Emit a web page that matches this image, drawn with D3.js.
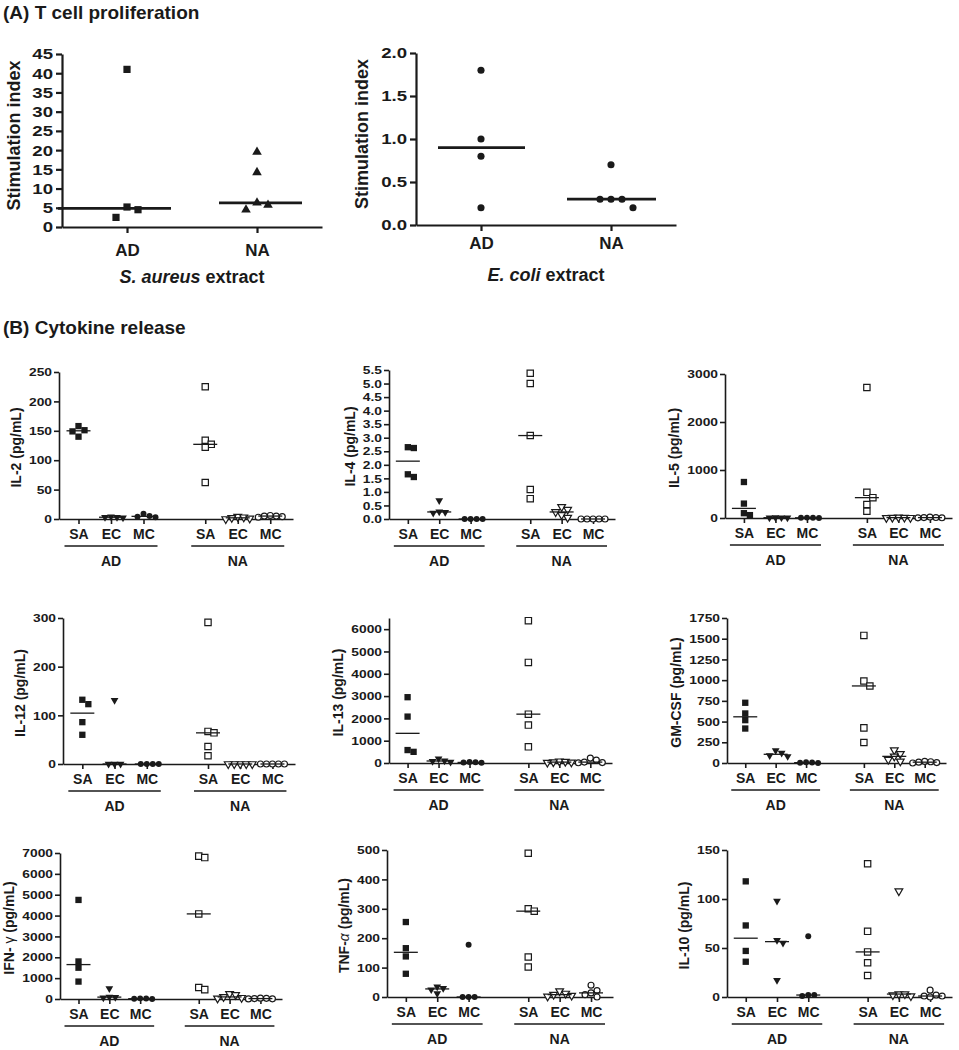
<!DOCTYPE html>
<html lang="en">
<head>
<meta charset="utf-8">
<title>T cell proliferation and cytokine release</title>
<script src="https://cdn.jsdelivr.net/npm/d3@7"></script>
<style>
  body { margin: 0; background: #fff; }
  svg { font-family: "Liberation Sans", Arial, sans-serif; }
  .axis path, .axis line { stroke: #1a1a1a; }
  .axis text { fill: #1a1a1a; font-weight: bold; }
  .lbl { fill: #1a1a1a; font-weight: bold; }
</style>
</head>
<body>
<script>
// ---------- Panel A data: stimulation index ----------
var groupsA = ["AD", "NA"];
var saureusAD = [41, 5.2, 4.5, 2.5];
var saureusNA = [19.5, 14.2, 6.3, 5.7, 4.5];
var ecoliAD = [1.8, 1.0, 0.8, 0.2];
var ecoliNA = [0.7, 0.3, 0.3, 0.3, 0.2];
var saureusTicks = [0, 5, 10, 15, 20, 25, 30, 35, 40, 45];
var ecoliTicks = [0, 0.5, 1.0, 1.5, 2.0];

// ---------- Panel B data: cytokines (pg/mL), [SA, EC, MC] per cohort ----------
var stimuli = ["SA", "EC", "MC"];
var cohorts = ["AD", "NA"];

var il2AD = [[158, 151, 149, 140], [4, 3, 3, 2], [9, 5, 4, 3]];
var il2NA = [[225, 134, 127, 122, 62], [4, 3, 2, 1, 0], [6, 5, 5, 4, 3]];
var il4AD = [[2.65, 2.62, 1.65, 1.55], [0.68, 0.27, 0.25, 0.22], [0, 0, 0, 0]];
var il4NA = [[5.38, 5.0, 3.08, 1.09, 0.75], [0.45, 0.35, 0.26, 0.15, 0.05], [0, 0, 0, 0, 0]];
var il5AD = [[750, 300, 100, 60], [10, 8, 5, 3], [8, 5, 3, 2]];
var il5NA = [[2720, 535, 424, 280, 140], [15, 10, 8, 5, 3], [20, 10, 8, 5, 3]];
var il12AD = [[132, 123, 86, 60], [131, 0, 0, 0], [0, 0, 0, 0]];
var il12NA = [[291, 67, 64, 36, 17], [0, 0, 0, 0, 0], [0, 0, 0, 0, 0]];
var il13AD = [[2950, 2080, 580, 500], [190, 100, 80, 40], [40, 30, 20, 10]];
var il13NA = [[6380, 4510, 2190, 1700, 724], [80, 60, 40, 30, 20], [220, 130, 40, 20, 10]];
var gmcsfAD = [[727, 598, 517, 416], [150, 120, 90, 80], [10, 5, 3, 0]];
var gmcsfNA = [[1540, 990, 930, 424, 247], [155, 110, 80, 40, 20], [20, 15, 10, 5, 0]];
var ifngAD = [[4750, 1800, 1500, 835], [500, 100, 80, 60], [30, 20, 10, 5]];
var ifngNA = [[6850, 6780, 4080, 550, 450], [250, 200, 100, 60, 30], [40, 30, 20, 10, 5]];
var tnfaAD = [[255, 166, 138, 79], [35, 30, 25, 12], [178, 0, 0, 0]];
var tnfaNA = [[489, 300, 292, 136, 102], [20, 12, 8, 5, 2], [40, 22, 14, 8, 0]];
var il10AD = [[118, 73, 47, 36], [98, 58, 55, 17], [62, 2, 2, 1]];
var il10NA = [[136, 67, 46, 35, 22], [108, 3, 3, 2, 1], [7, 2, 1, 1, 0]];

var il2Ticks = [0, 50, 100, 150, 200, 250];
var il4Ticks = [0, 0.5, 1.0, 1.5, 2.0, 2.5, 3.0, 3.5, 4.0, 4.5, 5.0, 5.5];
var il5Ticks = [0, 1000, 2000, 3000];
var il12Ticks = [0, 100, 200, 300];
var il13Ticks = [0, 1000, 2000, 3000, 4000, 5000, 6000];
var il13Top = 6500;
var gmcsfTicks = [0, 250, 500, 750, 1000, 1250, 1500, 1750];
var ifngTicks = [0, 1000, 2000, 3000, 4000, 5000, 6000, 7000];
var tnfaTicks = [0, 100, 200, 300, 400, 500];
var il10Ticks = [0, 50, 100, 150];

// label pieces: [text, isGreek]
var cytoPanels = [
  { label: [["IL-2 (pg/mL)"]], ad: il2AD, na: il2NA, ticks: il2Ticks },
  { label: [["IL-4 (pg/mL)"]], ad: il4AD, na: il4NA, ticks: il4Ticks, fmt: d3.format(".1f") },
  { label: [["IL-5 (pg/mL)"]], ad: il5AD, na: il5NA, ticks: il5Ticks },
  { label: [["IL-12 (pg/mL)"]], ad: il12AD, na: il12NA, ticks: il12Ticks },
  { label: [["IL-13 (pg/mL)"]], ad: il13AD, na: il13NA, ticks: il13Ticks, top: il13Top },
  { label: [["GM-CSF (pg/mL)"]], ad: gmcsfAD, na: gmcsfNA, ticks: gmcsfTicks },
  { label: [["IFN- "], ["γ", true], [" (pg/mL)"]], ad: ifngAD, na: ifngNA, ticks: ifngTicks },
  { label: [["TNF-"], ["α", true], [" (pg/mL)"]], ad: tnfaAD, na: tnfaNA, ticks: tnfaTicks },
  { label: [["IL-10 (pg/mL)"]], ad: il10AD, na: il10NA, ticks: il10Ticks }
];

// layout per cytokine panel: [axis x, top y, zero y, width]
var cytoLayout = [
  [59, 372, 519, 234], [389, 370, 519, 226], [725, 374, 518, 227],
  [63, 618, 764, 232], [389, 618, 763, 223], [727, 618, 763, 219],
  [60, 853, 999, 222], [387, 850, 997, 226], [727, 850, 997, 225]
];
var slots = [0, 1, 2, 3.9, 4.9, 5.9];

var w = 959, h = 1050;
var svg = d3.select("body").append("svg").attr("width", w).attr("height", h);

var fontFam = "'Liberation Sans', Arial, sans-serif";

// simple beeswarm: place points left/right when they would overlap
function swarm(vals, y, cx, s) {
  var sorted = vals.slice().sort(d3.descending);
  var placed = [];
  sorted.forEach(function(v) {
    var py = y(v);
    for (var k = 0; k < 30; k++) {
      var off = k === 0 ? 0 : (k % 2 ? 1 : -1) * Math.ceil(k / 2) * s;
      var px = cx + off;
      var hit = placed.some(function(p) {
        return Math.abs(p.y - py) < s && Math.abs(p.x - px) < s - 0.5;
      });
      if (!hit) { placed.push({ x: px, y: py }); break; }
    }
  });
  return placed;
}

function styleAxis(sel, size, sw) {
  sel.attr("font-family", fontFam).attr("font-size", size);
  sel.selectAll("path, line").attr("stroke-width", sw);
}

// the original's tick digits are wide: stretch them horizontally
function stretchTicks(sel, sx, gap) {
  sel.selectAll(".tick text")
     .attr("x", -gap / sx)
     .attr("transform", "scale(" + sx + ",1)");
}

// ---------- Titles ----------
svg.append("text").attr("class", "lbl").attr("x", 3).attr("y", 19)
   .attr("font-size", 19).text("(A) T cell proliferation");
svg.append("text").attr("class", "lbl").attr("x", 3).attr("y", 334)
   .attr("font-size", 19).text("(B) Cytokine release");

// ---------- Panel A ----------
var panelsA = [
  { ax: 62, top: 54, zero: 227, ticks: saureusTicks, fmt: d3.format("d"),
    data: [saureusAD, saureusNA], sym: [d3.symbolSquare, d3.symbolTriangle], size: [52, 40],
    ext: [[-69, 44], [-38, 45]], pad: 11, labX: 20, xlab: ["S. aureus", " extract"], xlabY: 283 },
  { ax: 416, top: 53, zero: 225, ticks: ecoliTicks, fmt: d3.format(".1f"),
    data: [ecoliAD, ecoliNA], sym: [d3.symbolCircle, d3.symbolCircle], size: [40, 40],
    ext: [[-43, 44], [-44, 45]], pad: 6, labX: 368, xlab: ["E. coli", " extract"], xlabY: 281 }
];

panelsA.forEach(function(p) {
  var y = d3.scaleLinear().domain([0, d3.max(p.ticks)]).range([p.zero, p.top]);
  var x = d3.scalePoint().domain(groupsA).range([p.ax, p.ax + 260]).padding(0.5);

  var ya = svg.append("g").attr("class", "axis").attr("transform", "translate(" + p.ax + ",0)")
     .call(d3.axisLeft(y).tickValues(p.ticks).tickSize(6).tickPadding(3).tickSizeOuter(0).tickFormat(p.fmt));
  styleAxis(ya, 15.5, 2.2);
  stretchTicks(ya, 1.2, 9);

  var xa = svg.append("g").attr("class", "axis").attr("transform", "translate(0," + p.zero + ")")
     .call(d3.axisBottom(x).tickSize(6).tickPadding(p.pad).tickSizeOuter(0));
  styleAxis(xa, 17, 2.2);

  svg.append("text").attr("class", "lbl").attr("font-size", 18).attr("text-anchor", "middle")
     .attr("transform", "translate(" + p.labX + "," + ((p.top + p.zero) / 2 - 5) + ") rotate(-90)")
     .text("Stimulation index");

  var xl = svg.append("text").attr("class", "lbl").attr("font-size", 18).attr("text-anchor", "middle")
     .attr("x", p.ax + 130).attr("y", p.xlabY);
  xl.append("tspan").attr("font-style", "italic").text(p.xlab[0]);
  xl.append("tspan").text(p.xlab[1]);

  p.data.forEach(function(vals, gi) {
    var cx = x(groupsA[gi]);
    var pts = swarm(vals, y, cx, 11);
    svg.selectAll(null).data(pts).enter().append("path")
       .attr("d", d3.symbol().type(p.sym[gi]).size(p.size[gi]))
       .attr("transform", function(d) { return "translate(" + d.x + "," + d.y + ")"; })
       .attr("fill", "#1a1a1a");
    var m = d3.median(vals);
    svg.append("line")
       .attr("x1", cx + p.ext[gi][0]).attr("x2", cx + p.ext[gi][1])
       .attr("y1", y(m)).attr("y2", y(m))
       .attr("stroke", "#1a1a1a").attr("stroke-width", 2.8);
  });
});

// ---------- Panel B ----------
var symTypes = [d3.symbolSquare, d3.symbolTriangle, d3.symbolCircle];
var symSizes = [40, 26, 28];

cytoPanels.forEach(function(p, i) {
  var L = cytoLayout[i];
  var ax = L[0], yTop = L[1], yZero = L[2], pw = L[3];
  var top = p.top || d3.max(p.ticks);
  var y = d3.scaleLinear().domain([0, top]).range([yZero, yTop]);
  var x = d3.scaleLinear().domain([-0.6, 6.6]).range([ax, ax + pw]);
  var g = svg.append("g");

  var ya = g.append("g").attr("class", "axis").attr("transform", "translate(" + ax + ",0)")
     .call(d3.axisLeft(y).tickValues(p.ticks).tickSize(5).tickPadding(2).tickSizeOuter(0)
       .tickFormat(p.fmt || d3.format("d")));
  styleAxis(ya, 11.5, 1.6);
  stretchTicks(ya, 1.2, 7);

  var xa = g.append("g").attr("class", "axis").attr("transform", "translate(0," + yZero + ")")
     .call(d3.axisBottom(x).tickValues(slots).tickSize(5).tickPadding(5).tickSizeOuter(0)
       .tickFormat(function(d, k) { return stimuli[k % 3]; }));
  styleAxis(xa, 14, 1.6);

  // cohort underline and label
  cohorts.forEach(function(c, ci) {
    var x0 = x(slots[ci * 3]) - 14, x1 = x(slots[ci * 3 + 2]) + 14;
    g.append("line").attr("x1", x0).attr("x2", x1)
     .attr("y1", yZero + 27).attr("y2", yZero + 27)
     .attr("stroke", "#1a1a1a").attr("stroke-width", 1.6);
    g.append("text").attr("class", "lbl").attr("font-size", 14).attr("text-anchor", "middle")
     .attr("x", x(slots[ci * 3 + 1])).attr("y", yZero + 47).text(c);
  });

  // y label
  var bb = ya.node().getBBox();
  var lab = g.append("text").attr("class", "lbl").attr("font-size", 14).attr("text-anchor", "middle")
     .attr("dy", "0.35em")
     .attr("transform", "translate(" + (ax + bb.x - 13) + "," + ((yTop + yZero) / 2 + 2) + ") rotate(-90)");
  p.label.forEach(function(part) {
    var t = lab.append("tspan").text(part[0]);
    if (part[1]) t.attr("font-weight", "normal").attr("font-style", part[0] === "α" ? "italic" : null);
  });

  [p.ad, p.na].forEach(function(groups, ci) {
    groups.forEach(function(vals, si) {
      var cx = x(slots[ci * 3 + si]);
      var pts = swarm(vals, y, cx, 6);
      g.selectAll(null).data(pts).enter().append("path")
       .attr("d", d3.symbol().type(symTypes[si]).size(symSizes[si]))
       .attr("transform", function(d) {
         return "translate(" + d.x + "," + d.y + ")" + (si === 1 ? " rotate(180)" : "");
       })
       .attr("fill", ci === 0 ? "#1a1a1a" : "#fff")
       .attr("stroke", "#1a1a1a").attr("stroke-width", ci === 0 ? 0 : 1.2);
      var m = d3.median(vals);
      g.append("line").attr("x1", cx - 12).attr("x2", cx + 12)
       .attr("y1", y(m)).attr("y2", y(m))
       .attr("stroke", "#1a1a1a").attr("stroke-width", 1.3);
    });
  });
});
</script>
</body>
</html>
